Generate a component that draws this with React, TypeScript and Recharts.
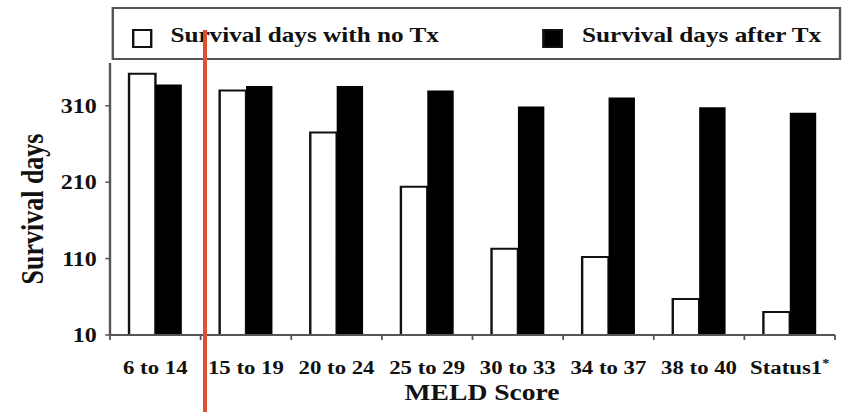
// MELD score survival bar chart: survival days without vs after transplant.
// The source figure is stretched horizontally, so the chart is drawn narrow
// and scaled on x by CSS.

import React from "react";
import { BarChart, Bar, XAxis, YAxis, Legend } from "recharts";

const categories = ["6 to 14", "15 to 19", "20 to 24", "25 to 29", "30 to 33", "34 to 37", "38 to 40", "Status1*"];
const noTxDays = [352, 330, 275, 204, 123, 112, 57, 40];
const afterTxDays = [338, 336, 336, 330, 309, 321, 308, 301];
const yTicks = [10, 110, 210, 310];

const data = categories.map((meld, i) => ({
  meld,
  noTx: noTxDays[i],
  afterTx: afterTxDays[i],
}));

const STRETCH = 1.2;
const WIDTH = 847;
const HEIGHT = 412;
const INNER_W = WIDTH / STRETCH;
const Y_AXIS_W = 110 / STRETCH;
const MARGIN_RIGHT = 10;
const PLOT_W = INNER_W - Y_AXIS_W - MARGIN_RIGHT;

const FONT = '"Liberation Serif", "Times New Roman", serif';
const INK = "#111";
const AXIS = "#555";

function MeldTick(props: any) {
  const { x, y, payload, index } = props;
  const half = PLOT_W / categories.length / 2;
  const value: string = payload.value;
  const star = value.endsWith("*");
  const main = star ? value.slice(0, -1) : value;
  return (
    <g>
      <line x1={x - half} x2={x - half} y1={y} y2={y + 5} stroke={AXIS} strokeWidth={1.5} />
      {index === categories.length - 1 && (
        <line x1={x + half} x2={x + half} y1={y} y2={y + 5} stroke={AXIS} strokeWidth={1.5} />
      )}
      <text
        x={x}
        y={y + 39}
        textAnchor="middle"
        fontFamily={FONT}
        fontWeight="bold"
        fontSize={19}
        fill={INK}
      >
        {main}
        {star && (
          <tspan fontSize={12} dy={-7}>
            *
          </tspan>
        )}
      </text>
    </g>
  );
}

function YTitle(props: any) {
  const vb = props.viewBox || { x: 0, y: 63, height: 272 };
  const cx = vb.x + 36;
  const cy = vb.y + vb.height / 2 + 10;
  return (
    <text
      x={cx}
      y={cy}
      transform={`rotate(-90, ${cx}, ${cy})`}
      textAnchor="middle"
      fontFamily={FONT}
      fontWeight="bold"
      fontSize={26}
      fill={INK}
    >
      Survival days
    </text>
  );
}

function XTitle(props: any) {
  const vb = props.viewBox || { x: Y_AXIS_W, y: 335, width: PLOT_W };
  return (
    <text
      x={vb.x + vb.width / 2 + 8}
      y={vb.y + 65}
      textAnchor="middle"
      fontFamily={FONT}
      fontWeight="bold"
      fontSize={23}
      fill={INK}
    >
      MELD Score
    </text>
  );
}

function BoxLegend() {
  const swatch = (fill: string): React.CSSProperties => ({
    position: "absolute",
    top: 20,
    width: 13,
    height: 15,
    background: fill,
    border: `2px solid ${INK}`,
  });
  const label: React.CSSProperties = {
    position: "absolute",
    top: 14,
    fontFamily: FONT,
    fontWeight: "bold",
    fontSize: 21,
    color: INK,
    whiteSpace: "nowrap",
    lineHeight: "24px",
  };
  return (
    <div
      style={{
        position: "absolute",
        left: 93,
        top: 7,
        width: 604,
        height: 49,
        border: `2px solid ${AXIS}`,
        background: "#fff",
      }}
    >
      <div style={{ ...swatch("#fff"), left: 15 }} />
      <div style={{ ...label, left: 47 }}>Survival days with no Tx</div>
      <div style={{ ...swatch("#000"), left: 357 }} />
      <div style={{ ...label, left: 390 }}>Survival days after Tx</div>
    </div>
  );
}

export default function App() {
  return (
    <div
      style={{
        position: "absolute",
        left: 0,
        top: 0,
        width: WIDTH,
        height: HEIGHT,
        overflow: "hidden",
        background: "#fff",
      }}
    >
      <div style={{ width: INNER_W, height: HEIGHT, transform: `scaleX(${STRETCH})`, transformOrigin: "0 0" }}>
        <BarChart
          width={INNER_W}
          height={HEIGHT}
          data={data}
          margin={{ top: 63, right: MARGIN_RIGHT, bottom: 0, left: 0 }}
          barCategoryGap="21%"
          barGap={0}
        >
          <XAxis
            dataKey="meld"
            height={HEIGHT - 335}
            axisLine={{ stroke: AXIS, strokeWidth: 2 }}
            tickLine={false}
            tickSize={0}
            tickMargin={0}
            interval={0}
            tick={<MeldTick />}
            label={<XTitle />}
          />
          <YAxis
            width={Y_AXIS_W}
            domain={[10, 366]}
            ticks={yTicks}
            allowDataOverflow
            axisLine={{ stroke: AXIS, strokeWidth: 2 }}
            tickLine={{ stroke: AXIS, strokeWidth: 1.5 }}
            tickSize={4}
            tickMargin={7}
            tick={{ fontFamily: FONT, fontWeight: "bold", fontSize: 20, fill: INK }}
            label={<YTitle />}
          />
          <Legend
            layout="vertical"
            align="center"
            verticalAlign="middle"
            content={() => <BoxLegend />}
            wrapperStyle={{ position: "absolute", left: 0, top: 0, width: INNER_W, height: 0 }}
          />
          <Bar dataKey="noTx" name="Survival days with no Tx" fill="#fff" stroke={INK} strokeWidth={2} isAnimationActive={false} />
          <Bar dataKey="afterTx" name="Survival days after Tx" fill="#000" isAnimationActive={false} />
        </BarChart>
      </div>
      {/* orange marker line drawn over the figure */}
      <div
        style={{
          position: "absolute",
          left: 203,
          top: 30,
          width: 4,
          height: HEIGHT - 30,
          background: "#d9512f",
        }}
      />
    </div>
  );
}
